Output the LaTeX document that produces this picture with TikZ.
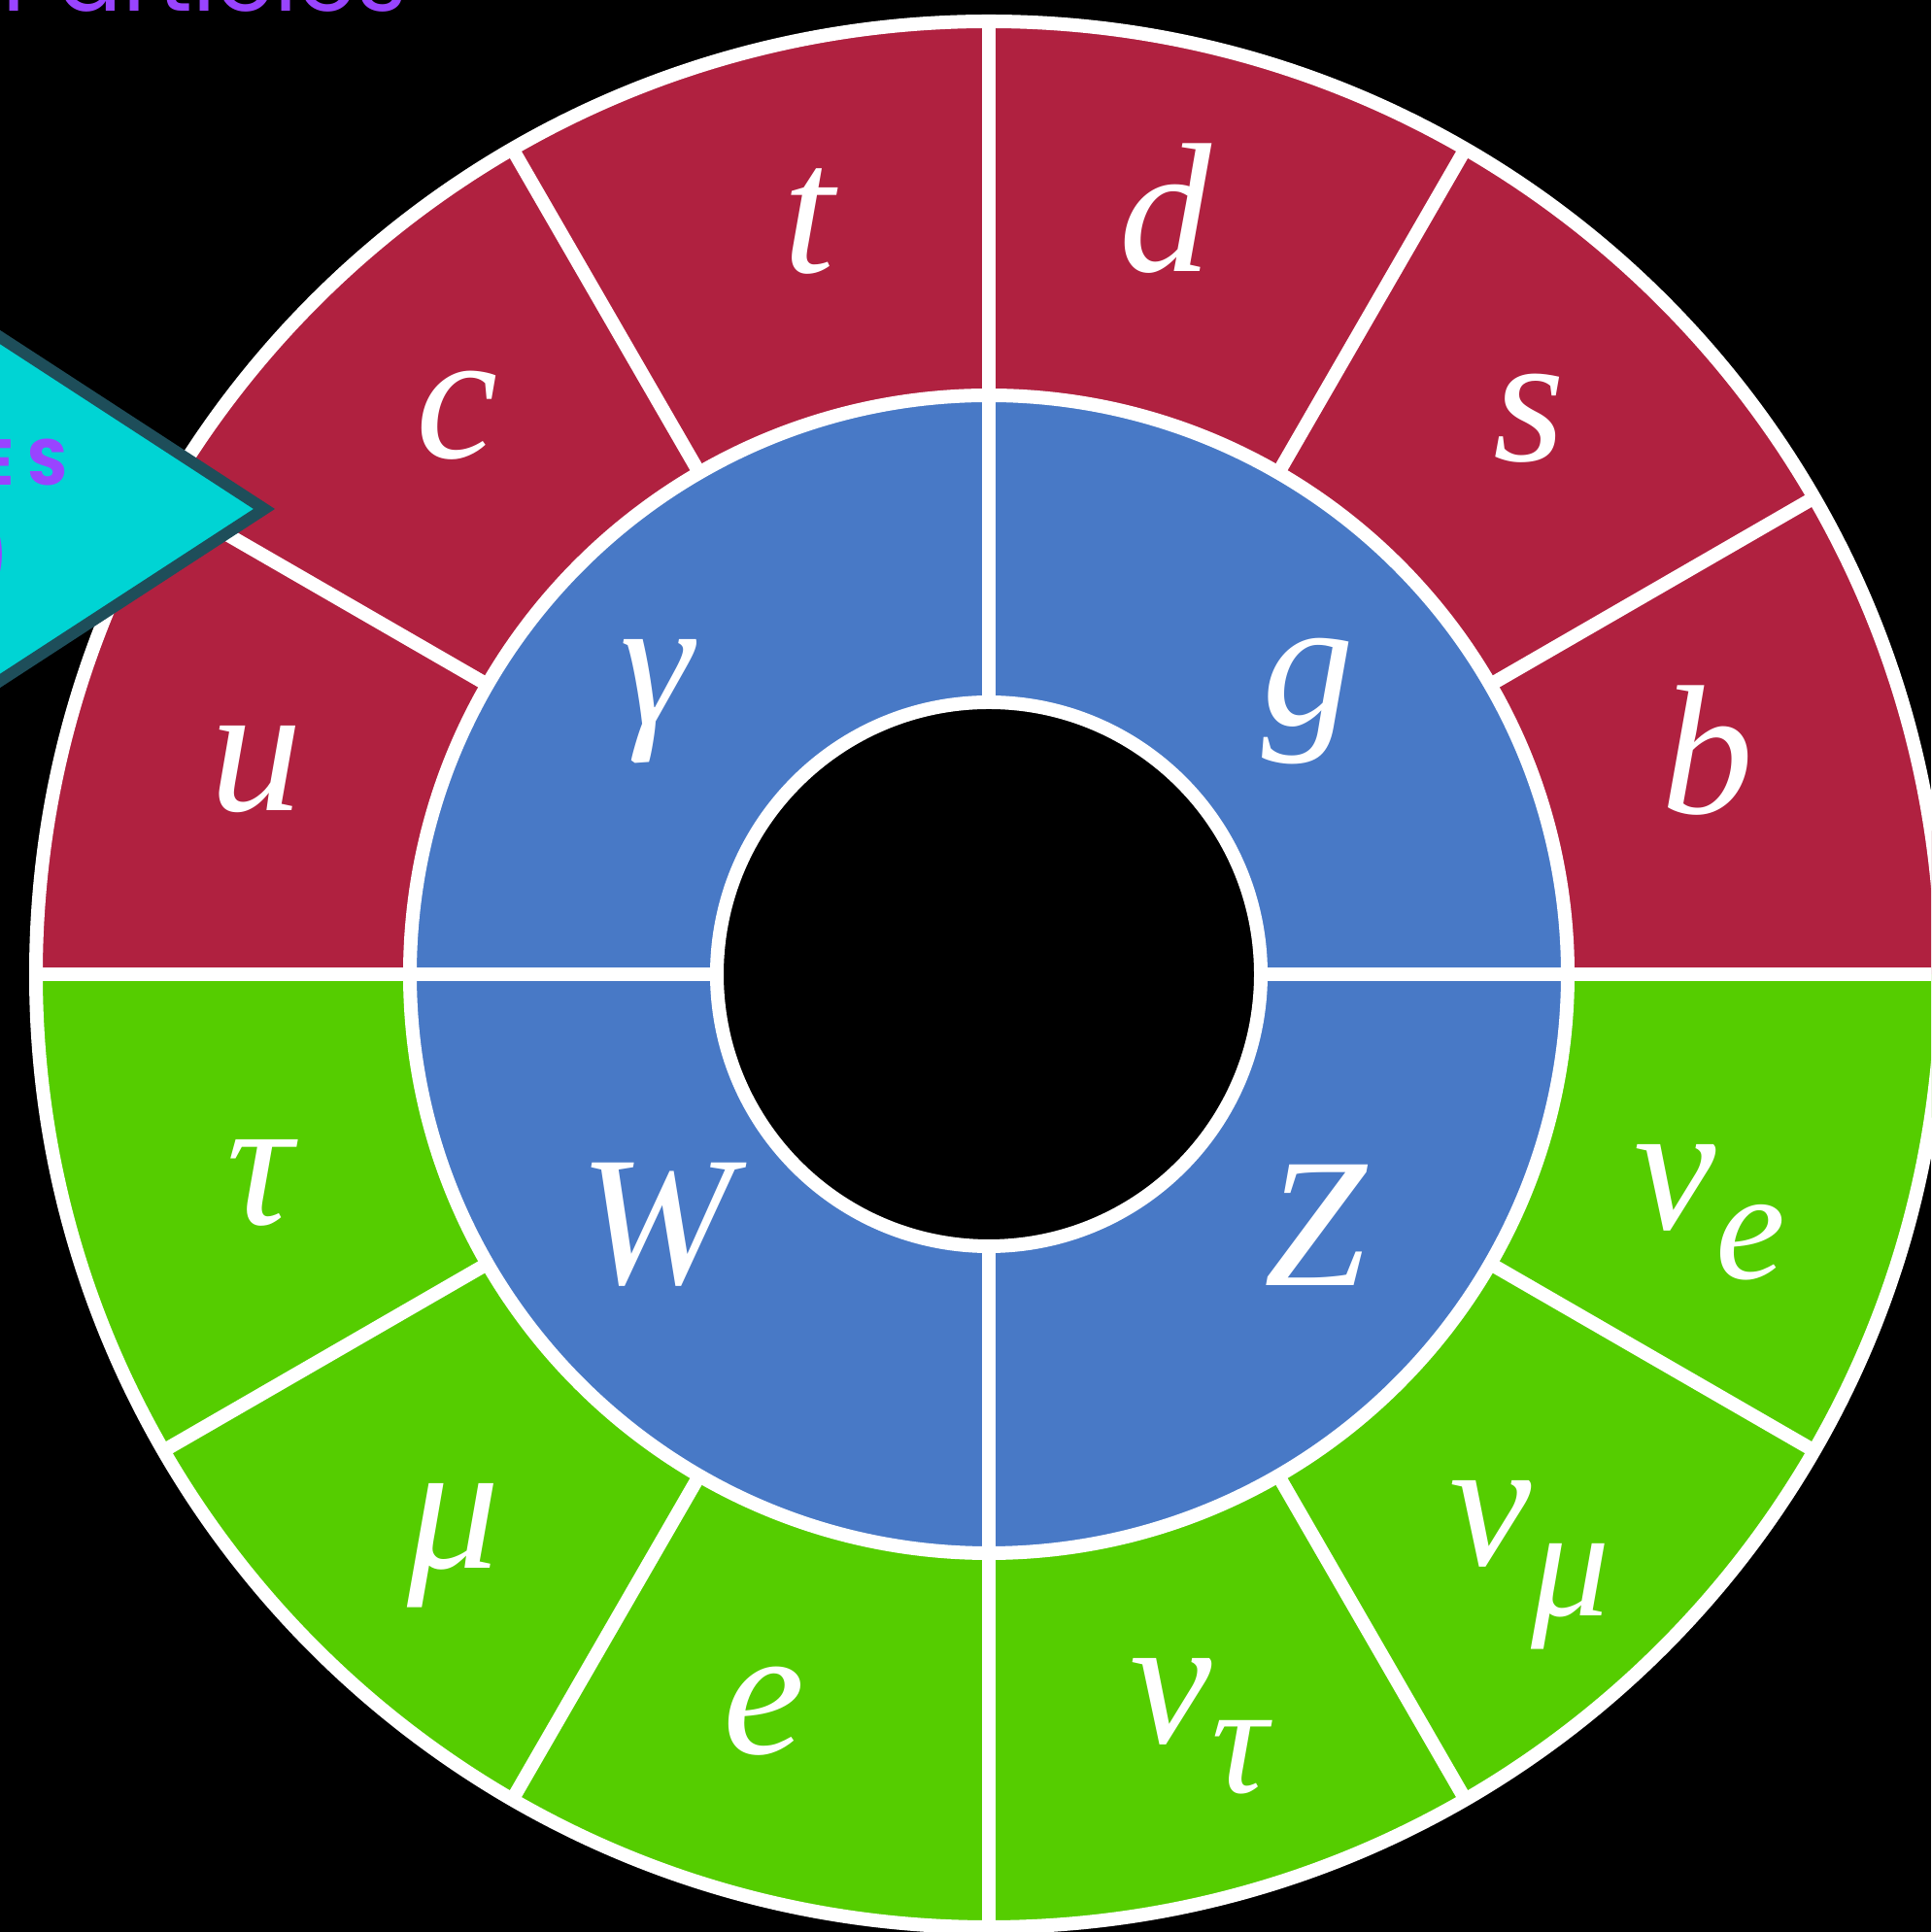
\documentclass[tikz,border=0pt]{standalone}
\usepackage{fontspec}
\setmainfont{Liberation Serif}
\newfontfamily\headfont{Poppins}
\newfontfamily\tagfont[LetterSpace=20]{Poppins}
\usetikzlibrary{positioning}
\definecolor{quarkred}{HTML}{B02140}
\definecolor{bosonblue}{HTML}{4879C6}
\definecolor{leptongreen}{HTML}{55CD00}
\definecolor{tagcyan}{HTML}{00D4D4}
\definecolor{tagedge}{HTML}{1E4E5A}
\definecolor{headpurple}{HTML}{9944FF}
\newcommand{\sub}[1]{\raisebox{-0.27em}{\fontsize{46}{46}\selectfont #1}}

\begin{document}
\begin{tikzpicture}[
    lbl/.style={text=white, font=\fontsize{54}{60}\selectfont\itshape, inner sep=0pt},
    wline/.style={white, line width=0.14cm},
    tagtext/.style={text=headpurple, inner sep=0pt}]
    \fill[black] (0,0) rectangle (19.88,19.89);
    \clip (0,0) rectangle (19.88,19.89);
    \begin{scope}[shift={(10.18,9.86)}]
        % rings
        \fill[quarkred] (0:5.96) arc (0:180:5.96) -- (180:9.81) arc (180:0:9.81) -- cycle;
        \fill[leptongreen] (180:5.96) arc (180:360:5.96) -- (0:9.81) arc (360:180:9.81) -- cycle;
        \fill[bosonblue, even odd rule] (0,0) circle (5.96) (0,0) circle (2.80);
        \draw[wline] (0,0) circle (9.81) (0,0) circle (5.96) (0,0) circle (2.80);
        \foreach \a in {0,90,180,270}{\draw[wline] (\a:2.80) -- (\a:9.81);}
        \foreach \a in {30,60,120,150,210,240,300,330}{\draw[wline] (\a:5.96) -- (\a:9.81);}
        % quarks
        \node[lbl] (u) at (164.4:7.83) {u};
        \node[lbl] (c) at (133.6:7.94) {c};
        \node[lbl] (t) at (103.4:7.97) {t};
        \node[lbl] (d) at (77:8.09) {d};
        \node[lbl] (s) at (45.8:7.98) {s};
        \node[lbl] (b) at (17.3:7.75) {b};
        % leptons
        \node[lbl] (tau) at (196:7.81) {τ};
        \node[lbl] (mu) at (226.9:8.06) {μ};
        \node[lbl] (e) at (253:7.93) {e};
        \node[lbl] (nutau) at (285.6:8.04) {ν\sub{τ}};
        \node[lbl] (numu) at (312.5:8.25) {ν\sub{μ}};
        \node[lbl] (nue) at (341.7:7.82) {ν\sub{e}};
        % bosons
        \node[lbl] (gamma) at (-3.42,2.81) {γ};
        \node[lbl] (g) at (3.29,2.81) {g};
        \node[lbl] (W) at (-3.42,-2.58) {W};
        \node[lbl] (Z) at (3.36,-2.58) {Z};
    \end{scope}
    % title and tag
    \node[font=\headfont\fontsize{28}{30}\selectfont, text=headpurple, anchor=base east, inner sep=0pt] (head) at (4.20,19.77) {Particles};
    \draw[tagedge, fill=tagcyan, line width=0.12cm] (-1,17.07) -- (2.72,14.65) -- (-1,12.23) -- cycle;
    \node[tagtext, font=\tagfont\bfseries\fontsize{19}{22}\selectfont, anchor=base east] (tag) at (0.70,14.89) {ES};
    \node[tagtext, font=\tagfont\bfseries\fontsize{24}{26}\selectfont, anchor=east] (tagb) at (0.10,14.18) {)};
\end{tikzpicture}
\end{document}
